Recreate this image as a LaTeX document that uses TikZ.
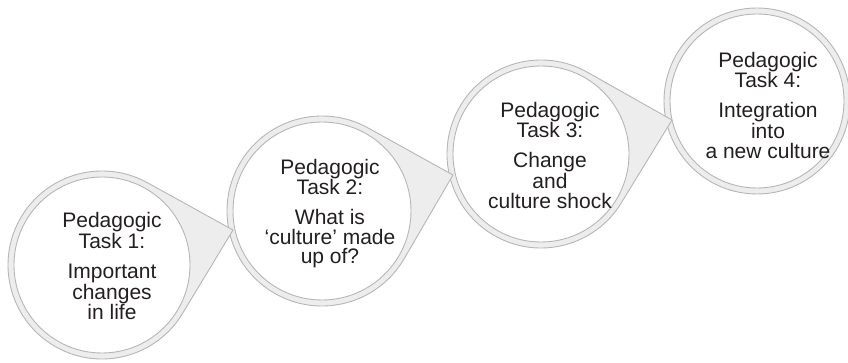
\documentclass[tikz,border=0pt]{standalone}
\usepackage{fontspec}
\setmainfont{Liberation Sans}
\usetikzlibrary{calc}
\definecolor{ringline}{RGB}{182,182,182}
\definecolor{ringfill}{RGB}{237,237,237}
\definecolor{txt}{RGB}{35,31,32}
\tikzset{
  ringouter/.style={fill=ringfill, draw=ringline, line width=0.9pt, line join=round},
  ringinner/.style={circle, fill=white, draw=ringline, line width=0.9pt, inner sep=0pt},
  tasktext/.style={align=center, font=\fontsize{21}{19.5}\selectfont, text=txt, inner sep=0pt, anchor=north},
}
\newcommand\tailring[3]{% #1 centre, #2 tip, #3 outer radius
  \path[ringouter] let \p1=(#1), \p2=(#2),
      \n1={atan2(\y2-\y1,\x2-\x1)},
      \n2={acos(#3/veclen(\x2-\x1,\y2-\y1))} in
    (#2) -- ($(#1)+(\n1+\n2:#3)$)
    arc[start angle=\n1+\n2, end angle=\n1-\n2+360, radius=#3] -- cycle;
}
\begin{document}
\begin{tikzpicture}[x=1pt,y=1pt]
\useasboundingbox (0,0) rectangle (848,362);
\coordinate (c1) at (102,97);
\coordinate (c2) at (322,151);
\coordinate (c3) at (541,208);
\coordinate (c4) at (757,261);
\coordinate (tip1) at (233,132);
\coordinate (tip2) at (453,187);
\coordinate (tip3) at (672,242);
% outer rings with tails
\path[ringouter] (c4) circle[radius=93];
\tailring{c3}{tip3}{94}
\tailring{c2}{tip2}{95}
\tailring{c1}{tip1}{94}
% inner discs
\node[ringinner, minimum size=176pt] (k1) at (c1) {};
\node[ringinner, minimum size=178pt] (k2) at (c2) {};
\node[ringinner, minimum size=176pt] (k3) at (c3) {};
\node[ringinner, minimum size=174pt] (k4) at (c4) {};
% texts
\node[tasktext] (t1) at ($(c1)+(10,52.5)$) {Pedagogic\\Task 1:\\[10.5pt]Important\\changes\\in life};
\node[tasktext] (t2) at ($(c2)+(8,52.3)$) {Pedagogic\\Task 2:\\[10.5pt]What is\\‘culture’ made\\up of?};
\node[tasktext] (t3) at ($(c3)+(9,52)$) {Pedagogic\\Task 3:\\[10.5pt]Change\\and\\culture shock};
\node[tasktext] (t4) at ($(c4)+(11,49)$) {Pedagogic\\Task 4:\\[10.5pt]Integration\\into\\a new culture};
\end{tikzpicture}
\end{document}
